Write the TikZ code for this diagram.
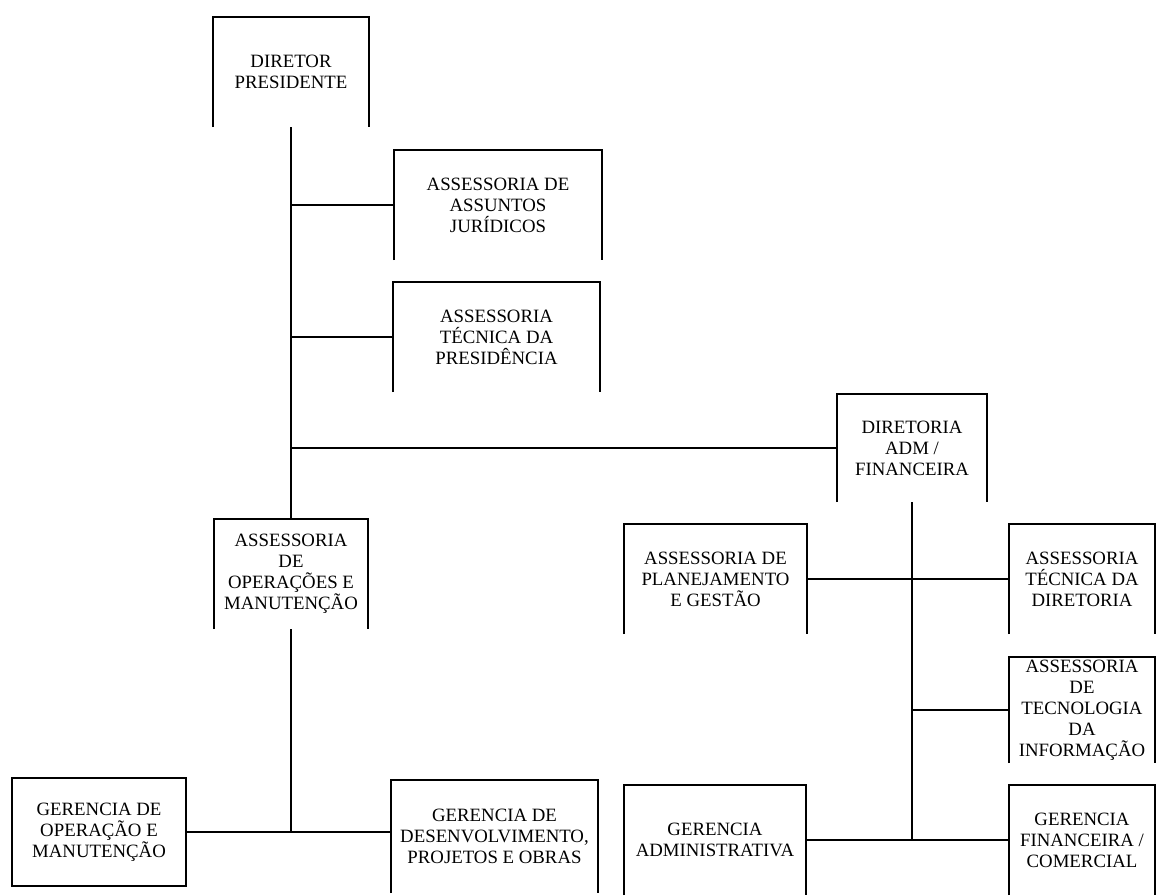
\documentclass[tikz,border=0pt]{standalone}
\usepackage{fontspec}
\setmainfont{Liberation Serif}
\usepackage{tikz}
\usetikzlibrary{calc}
\tikzset{
	unit/.style={align=center, inner sep=0pt, font=\fontsize{18.8}{21}\selectfont},
	rule/.style={line width=1.7pt},
}

\begin{document}
\begin{tikzpicture}[x=1pt, y=-1pt]
								\def\boxh{110}
								\def\trunkx{291}

								\useasboundingbox[fill=white] (0,0) rectangle (1157,895);

								\node[unit, minimum width=155, minimum height=\boxh] (dp) at (\trunkx,72) {DIRETOR\\PRESIDENTE};
								\node[unit, minimum width=208, minimum height=\boxh] (aj) at (498,205) {ASSESSORIA DE\\ASSUNTOS\\JURÍDICOS};
								\node[unit, minimum width=207, minimum height=\boxh] (atp) at (496.5,337) {ASSESSORIA\\TÉCNICA DA\\PRESIDÊNCIA};
								\node[unit, minimum width=150, minimum height=108] (dir) at (912,448) {DIRETORIA\\ADM /\\FINANCEIRA};
								\node[unit, minimum width=154, minimum height=\boxh] (ops) at (\trunkx,574) {ASSESSORIA\\DE\\OPERAÇÕES E\\MANUTENÇÃO};

								\node[unit, minimum width=183, minimum height=\boxh] (plan) at (715.5,579) {ASSESSORIA DE\\PLANEJAMENTO\\E GESTÃO};
								\node[unit, minimum width=146, minimum height=\boxh] (atd) at (1082,579) {ASSESSORIA\\TÉCNICA DA\\DIRETORIA};
								\node[unit, minimum width=146, minimum height=106] (ati) at (1082,710) {ASSESSORIA\\DE\\TECNOLOGIA\\DA\\INFORMAÇÃO};

								\node[unit, minimum width=174, minimum height=108, draw, rule] (gop) at (99,832) {GERENCIA DE\\OPERAÇÃO E\\MANUTENÇÃO};
								\node[unit, minimum width=207, minimum height=113] (gdes) at (494.5,836.5) {GERENCIA DE\\DESENVOLVIMENTO,\\PROJETOS E OBRAS};
								\node[unit, minimum width=182, minimum height=\boxh] (adm) at (715,840) {GERENCIA\\ADMINISTRATIVA};
								\node[unit, minimum width=146, minimum height=\boxh] (fin) at (1082,840) {GERENCIA\\FINANCEIRA /\\COMERCIAL};

								\foreach \n in {dp,aj,atp,dir,ops,plan,atd,ati,gdes,adm,fin}
									\draw[rule] (\n.south west) |- (\n.north east) -- (\n.south east);

								\draw[rule] (dp.south) -- (ops.north);
								\draw[rule] (dp.south |- aj.west) -- (aj.west);
								\draw[rule] (dp.south |- atp.west) -- (atp.west);
								\draw[rule] (dp.south |- dir.west) -- (dir.west);

								\draw[rule] (ops.south) -- (ops.south |- gop.east);
								\draw[rule] (gop.east) -- (gdes.west |- gop.east);

								\draw[rule] (dir.south) -- (dir.south |- fin.west);
								\draw[rule] (plan.east) -- (atd.west);
								\draw[rule] (dir.south |- ati.west) -- (ati.west);
								\draw[rule] (adm.east) -- (fin.west);
							\end{tikzpicture}
\end{document}
